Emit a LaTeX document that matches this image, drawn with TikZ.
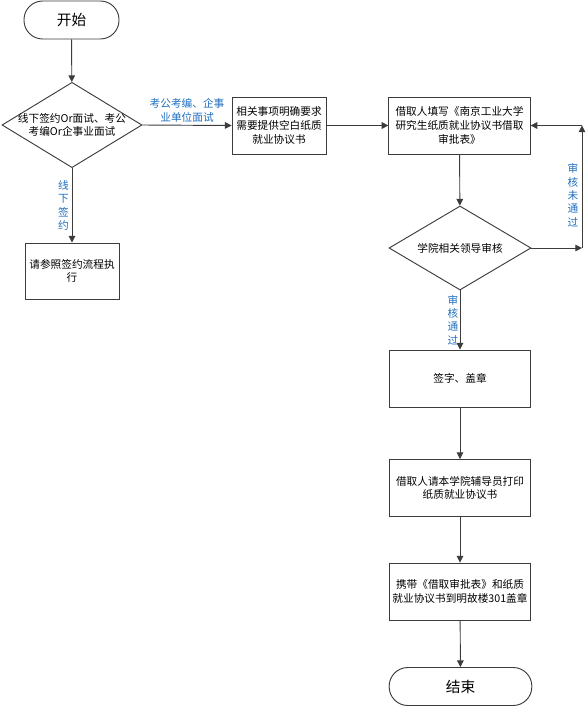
\documentclass[tikz,border=0pt]{standalone}
\usepackage{fontspec}
\setmainfont{Noto Sans CJK SC}
\usetikzlibrary{shapes.geometric, arrows.meta}
\definecolor{labelblue}{RGB}{30,110,190}
\definecolor{edgegray}{RGB}{60,60,60}

\begin{document}
\begin{tikzpicture}[x = 0.75pt, y = -0.75pt, line width = 0.7pt, draw = edgegray,
                      font = \fontsize{8}{10.3}\selectfont,
                      term/.style = {draw, rectangle, rounded corners = 14pt, minimum height = 28.5pt,
                                     font = \fontsize{11}{13}\selectfont},
                      proc/.style = {draw, rectangle, align = center, minimum width = 106pt,
                                     minimum height = 42.75pt, inner sep = 2pt},
                      decide/.style = {draw, diamond, inner sep = 0pt},
                      flow/.style = {-{Triangle[length = 5pt, width = 5pt]}},
                      elabel/.style = {text = labelblue, align = center, inner sep = 0pt,
                                       font = \fontsize{8}{10}\selectfont}]
    \useasboundingbox (0, 0) rectangle (587, 706);

    \node [term, minimum width = 71.25pt] (start) at (71.5, 20){开始};
    \node [decide, minimum width = 105pt, minimum height = 64pt,
           label = {[align = center]center:线下签约Or面试、考公\\考编Or企事业面试}] (way) at (72, 125){};
    \node [proc, minimum width = 70.5pt] (need) at (279, 125.5){相关事项明确要求\\需要提供空白纸质\\就业协议书};
    \node [proc] (fill) at (459.5, 125.5){借取人填写《南京工业大学\\研究生纸质就业协议书借取\\审批表》};
    \node [decide, minimum width = 106.5pt, minimum height = 63pt,
           label = {center:学院相关领导审核}] (check) at (460, 248){};
    \node [proc, minimum width = 70.5pt, minimum height = 42pt] (offline) at (72, 271){请参照签约流程执\\行};
    \node [proc] (sign) at (460, 378.5){签字、盖章};
    \node [proc] (print) at (460, 488){借取人请本学院辅导员打印\\纸质就业协议书};
    \node [proc] (carry) at (460, 591.5){携带《借取审批表》和纸质\\就业协议书到明故楼301盖章};
    \node [term, minimum width = 107pt] (stop) at (460.5, 686.5){结束};

    \coordinate (back1) at (582, 248);
    \coordinate (back2) at (fill.east -| back1);

    \draw [flow] (start) -- (way);
    \draw [flow] (way.east) -- node [elabel, midway, above = 2pt] (lab1){考公考编、企事\\业单位面试} (need.west);
    \draw [flow] (way.south) -- node [elabel, midway, anchor = east, xshift = -2pt] (lab2){线\\下\\签\\约} (offline.north);
    \draw [flow] (need) -- (fill);
    \draw [flow] (fill) -- (check);
    \draw [flow] (check.south) -- node [elabel, midway, anchor = east, xshift = -1pt] (lab3){审\\核\\通\\过} (sign.north);
    \draw [flow] (check.east) -- (back1);
    \draw [flow] (back1) -- node [elabel, pos = 0.43, anchor = east, xshift = -2.5pt] (lab4){审\\核\\未\\通\\过} (back2);
    \draw [flow] (back2) -- (fill.east);
    \draw [flow] (sign) -- (print);
    \draw [flow] (print) -- (carry);
    \draw [flow] (carry) -- (stop);
\end{tikzpicture}
\end{document}
